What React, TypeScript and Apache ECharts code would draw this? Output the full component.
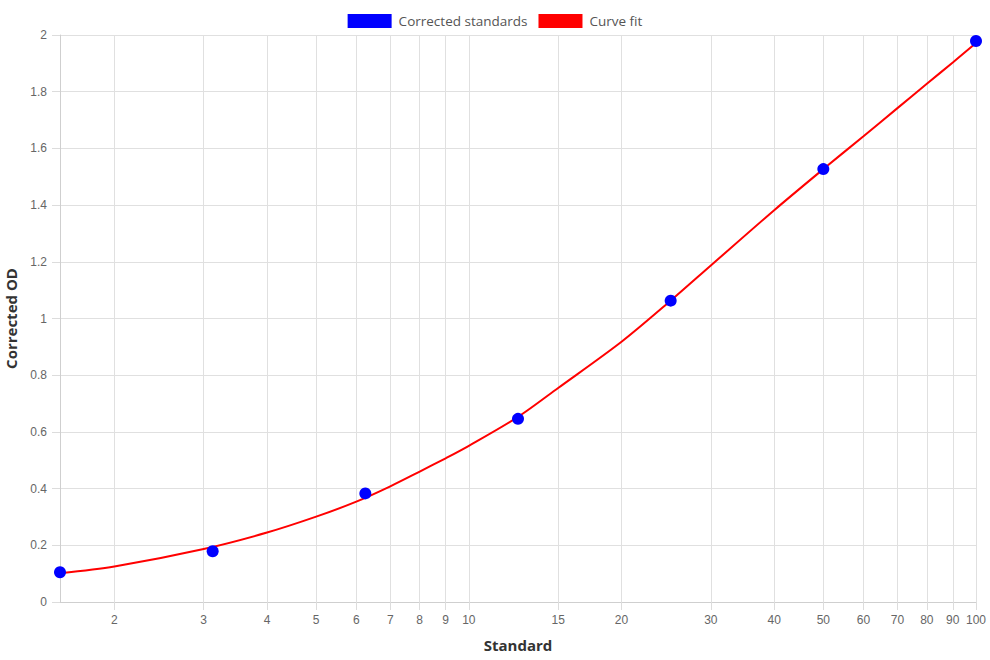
import React, { useEffect, useRef } from "react";
import * as echarts from "echarts";

// Measured standards (concentration vs. corrected optical density)
const standards = [1.5625, 3.125, 6.25, 12.5, 25, 50, 100];
const correctedOD = [0.105, 0.179, 0.383, 0.646, 1.063, 1.527, 1.979];

// Fitted curve sampled along the concentration range
const fitX = [1.5625, 2, 3, 4, 5, 6, 7, 8, 9, 10, 12.5, 15, 20, 25, 30, 40, 50, 60, 70, 80, 90, 100];
const fitY = [0.101, 0.125, 0.187, 0.245, 0.301, 0.354, 0.408, 0.46, 0.507, 0.551, 0.653, 0.755, 0.918, 1.063, 1.187, 1.382, 1.527, 1.643, 1.742, 1.828, 1.903, 1.972];

// Tick positions on the logarithmic concentration axis
const xTicks = [2, 3, 4, 5, 6, 7, 8, 9, 10, 15, 20, 30, 40, 50, 60, 70, 80, 90, 100];

const xMin = 1.5625;
const xMax = 100;

const lg = (v: number) => Math.log10(v);

export default function App() {
  const ref = useRef<HTMLDivElement>(null);

  useEffect(() => {
    if (!ref.current) return;
    const chart = echarts.init(ref.current, undefined, { renderer: "svg" });
    const tickFont = { fontFamily: "Liberation Sans", fontSize: 12, color: "#666" };
    const titleFont = { fontFamily: "Open Sans", fontSize: 15, fontWeight: "bold" as const, color: "#333" };
    chart.setOption({
      animation: false,
      backgroundColor: "#fff",
      legend: {
        top: 9,
        left: "center",
        itemWidth: 44,
        itemHeight: 14,
        itemGap: 11,
        icon: "rect",
        textStyle: { fontFamily: "Open Sans", fontSize: 13.5, color: "#555", padding: [0, 0, 0, 2] },
        data: [
          { name: "Corrected standards", itemStyle: { color: "#0000ff", opacity: 1 } },
          { name: "Curve fit", itemStyle: { color: "#ff0000", opacity: 1 } },
        ],
      },
      grid: { left: 60, right: 14, top: 35, bottom: 58, containLabel: false, outerBoundsMode: "none" },
      xAxis: {
        type: "value",
        min: lg(xMin),
        max: lg(xMax),
        name: "Standard",
        nameLocation: "middle",
        nameGap: 35,
        nameTextStyle: titleFont,
        axisLine: { show: true, lineStyle: { color: "#cfcfcf" } },
        axisTick: {
          show: true,
          length: 8,
          lineStyle: { color: "#dcdcdc" },
          customValues: xTicks.map(lg),
        },
        axisLabel: {
          ...tickFont,
          margin: 12,
          customValues: xTicks.map(lg),
          formatter: (v: number) => String(Math.round(Math.pow(10, v))),
        },
        splitLine: { show: true, lineStyle: { color: "#e0e0e0" } },
      },
      yAxis: {
        type: "value",
        min: 0,
        max: 2,
        interval: 0.2,
        name: "Corrected OD",
        nameLocation: "middle",
        nameGap: 42,
        nameTextStyle: titleFont,
        axisLine: { show: true, lineStyle: { color: "#cfcfcf" } },
        axisTick: { show: true, length: 8, lineStyle: { color: "#dcdcdc" } },
        axisLabel: {
          ...tickFont,
          margin: 13,
          formatter: (v: number) => String(Math.round(v * 10) / 10),
        },
        splitLine: { show: true, lineStyle: { color: "#e0e0e0" } },
      },
      series: [
        {
          name: "Corrected standards",
          type: "scatter",
          z: 3,
          symbol: "circle",
          symbolSize: 12,
          itemStyle: { color: "#0000ff", opacity: 1 },
          data: standards.map((x, i) => [lg(x), correctedOD[i]]),
        },
        {
          name: "Curve fit",
          type: "line",
          z: 2,
          color: "#ff0000",
          smooth: 0.3,
          showSymbol: false,
          symbol: "none",
          lineStyle: { color: "#ff0000", width: 2 },
          itemStyle: { color: "#ff0000" },
          data: fitX.map((x, i) => [lg(x), fitY[i]]),
        },
      ],
    });
    return () => chart.dispose();
  }, []);

  return (
    <div
      ref={ref}
      style={{ position: "fixed", left: 0, top: 0, width: 990, height: 660 }}
    />
  );
}
